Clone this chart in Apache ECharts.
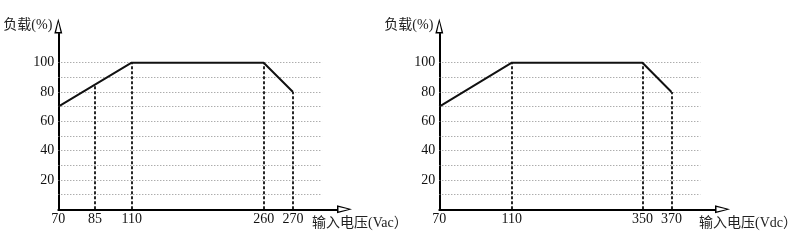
<!DOCTYPE html>
<html>
<head>
<meta charset="utf-8">
<script src="https://cdn.jsdelivr.net/npm/echarts@6/dist/echarts.min.js"></script>
<style>html,body{margin:0;padding:0;background:#fff}#c{width:800px;height:246px}</style>
</head>
<body>
<div id="c"></div>
<script>
// ---- data ----
const yName = '负载(%)';
const acName = '输入电压(Vac）';
const dcName = '输入电压(Vdc）';
const loadTicks = [20, 40, 60, 80, 100];
const gridLoads = [10, 20, 30, 40, 50, 60, 70, 80, 90, 100];
const acTickVolts = [70, 85, 110, 260, 270];
const dcTickVolts = [70, 110, 350, 370];
const acVolts = [70, 85, 110, 260, 270];
const acLoad = [70, 85, 100, 100, 80];
const dcVolts = [70, 110, 350, 370];
const dcLoad = [70, 100, 100, 80];

// ---- layout (schematic, non-proportional voltage axis) ----
const acSlots = [0, 5, 10, 28, 32];
const dcSlots = [0, 10, 28, 32];
const gridEndSlot = 36;
const axisEndSlot = 38;

function slotOf(v, tv, ts) {
  for (let i = 0; i < tv.length - 1; i++) {
    if (v >= tv[i] && v <= tv[i + 1]) {
      return ts[i] + (v - tv[i]) / (tv[i + 1] - tv[i]) * (ts[i + 1] - ts[i]);
    }
  }
  return ts[ts.length - 1];
}

const serifFont = "'Liberation Serif', 'Times New Roman', serif";
const nameFont = "'Liberation Serif', 'Noto Sans CJK SC', serif";
const arrowPath = 'path://M4,0 L8,15 L0,15 Z M4,3.6 L1.8,13.5 L6.2,13.5 Z';

function makeX(idx, tv, ts, name, nameGap) {
  return {
    type: 'value', gridIndex: idx, min: 0, max: axisEndSlot,
    axisLine: { show: true, lineStyle: { color: '#000', width: 2 },
      symbol: ['none', arrowPath], symbolSize: [8, 15], symbolOffset: [0, 7.5] },
    axisTick: { show: false },
    splitLine: { show: false },
    axisLabel: { customValues: ts, margin: 3, color: '#111', fontSize: 14, fontFamily: serifFont,
      formatter: function (v) { const i = ts.indexOf(v); return i >= 0 ? String(tv[i]) : ''; } },
    name: name, nameLocation: 'end', nameGap: nameGap,
    nameTextStyle: { color: '#222', fontSize: 14, fontFamily: nameFont, align: 'left', verticalAlign: 'top', padding: [7, 0, 0, 0] }
  };
}
function makeY(idx) {
  return {
    type: 'value', gridIndex: idx, min: 0, max: 120, interval: 10,
    axisLine: { show: true, lineStyle: { color: '#000', width: 2 },
      symbol: ['none', arrowPath], symbolSize: [8, 15], symbolOffset: [0, 7.5] },
    axisTick: { show: false },
    splitLine: { show: false },
    axisLabel: { customValues: loadTicks, margin: 4, color: '#111', fontSize: 14, fontFamily: serifFont },
    name: yName, nameLocation: 'end', nameGap: 8,
    nameTextStyle: { color: '#222', fontSize: 14, fontFamily: nameFont, align: 'right', verticalAlign: 'middle', padding: [0, 6, 0, 0] }
  };
}
function makeSeries(idx, volts, loads, tv, ts) {
  const pts = volts.map((v, i) => [slotOf(v, tv, ts), loads[i]]);
  return [
    {
      type: 'line', xAxisIndex: idx, yAxisIndex: idx, data: [], silent: true,
      markLine: { silent: true, symbol: ['none', 'none'], label: { show: false },
        lineStyle: { color: '#8a8a8a', width: 1, type: [1, 2] },
        data: gridLoads.map(g => [{ coord: [0, g] }, { coord: [gridEndSlot, g] }]) }
    },
    {
      type: 'line', xAxisIndex: idx, yAxisIndex: idx, data: pts, symbol: 'none', silent: true, z: 5,
      lineStyle: { color: '#111', width: 2 },
      markLine: { silent: true, symbol: ['none', 'none'], label: { show: false },
        lineStyle: { color: '#111', width: 1.8, type: [3, 2] },
        data: pts.slice(1).map(p => [{ coord: [p[0], 0] }, { coord: [p[0], p[1]] }]) }
    }
  ];
}

const chart = echarts.init(document.getElementById('c'), null, { renderer: 'canvas' });
chart.setOption({
  backgroundColor: '#fff',
  animation: false,
  grid: [
    { left: 58.3, top: 33.4, width: 278.7, height: 175.9 },
    { left: 439.3, top: 33.4, width: 278.7, height: 175.9 }
  ],
  xAxis: [makeX(0, acTickVolts, acSlots, acName, -25), makeX(1, dcTickVolts, dcSlots, dcName, -16)],
  yAxis: [makeY(0), makeY(1)],
  series: [].concat(makeSeries(0, acVolts, acLoad, acTickVolts, acSlots),
                    makeSeries(1, dcVolts, dcLoad, dcTickVolts, dcSlots))
});
</script>
</body>
</html>
